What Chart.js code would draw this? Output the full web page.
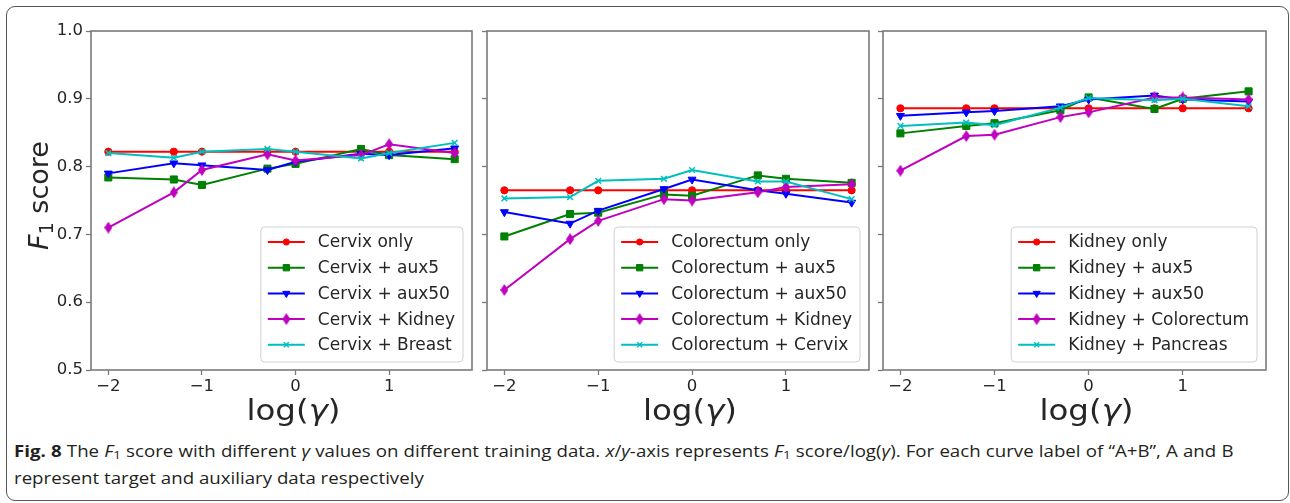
<!DOCTYPE html>
<html>
<head>
<meta charset="utf-8">
<script src="https://cdn.jsdelivr.net/npm/chart.js@4/dist/chart.umd.min.js"></script>
<style>
  body { margin: 0; background: #fff; width: 1290px; height: 503px; overflow: hidden; position: relative; }
  #frame { position: absolute; left: 6px; top: 6px; width: 1281px; height: 493px; border: 1px solid #555; border-radius: 9px; }
  canvas { position: absolute; top: 0; }
  #caption { position: absolute; left: 14px; top: 438px; width: 1012px; font-family: "Open Sans", sans-serif; font-size: 15.5px; line-height: 27px; color: #231f20; transform: scaleX(1.205); transform-origin: 0 0; }
  #caption .l1 { white-space: nowrap; text-align: justify; text-align-last: justify; }
  #caption .l2 { white-space: nowrap; }
  #caption sub { font-size: 0.72em; vertical-align: -0.2em; line-height: 0; }
</style>
</head>
<body>
<div id="frame"></div>
<canvas id="c1" width="480" height="436" style="left:0px"></canvas>
<canvas id="c2" width="395" height="436" style="left:480px"></canvas>
<canvas id="c3" width="400" height="436" style="left:875px"></canvas>
<div id="caption"><div class="l1"><b>Fig. 8</b> The <i>F</i><sub>1</sub> score with different <i>γ</i> values on different training data. <i>x</i>/<i>y</i>-axis represents <i>F</i><sub>1</sub> score/log(<i>γ</i>). For each curve label of “A+B”, A and B</div><div class="l2">represent target and auxiliary data respectively</div></div>
<script>
// log10 of gamma = 0.01, 0.05, 0.1, 0.5, 1, 5, 10, 50
const logGamma = [-2, -1.3, -1, -0.3, 0, 0.7, 1, 1.7];
const xTicks = [-2, -1, 0, 1];
const yTicks = [0.5, 0.6, 0.7, 0.8, 0.9, 1.0];

const cervixLabels = ["Cervix only", "Cervix + aux5", "Cervix + aux50", "Cervix + Kidney", "Cervix + Breast"];
const cervixOnly   = [0.822, 0.822, 0.822, 0.822, 0.822, 0.822, 0.822, 0.822];
const cervixAux5   = [0.784, 0.781, 0.773, 0.797, 0.804, 0.826, 0.817, 0.811];
const cervixAux50  = [0.790, 0.805, 0.802, 0.795, 0.807, 0.819, 0.817, 0.827];
const cervixKidney = [0.710, 0.762, 0.795, 0.818, 0.809, 0.817, 0.833, 0.820];
const cervixBreast = [0.820, 0.813, 0.822, 0.826, 0.822, 0.812, 0.820, 0.835];

const colorectumLabels = ["Colorectum only", "Colorectum + aux5", "Colorectum + aux50", "Colorectum + Kidney", "Colorectum + Cervix"];
const colorectumOnly   = [0.765, 0.765, 0.765, 0.765, 0.765, 0.765, 0.765, 0.765];
const colorectumAux5   = [0.697, 0.730, 0.732, 0.759, 0.757, 0.787, 0.782, 0.776];
const colorectumAux50  = [0.733, 0.716, 0.735, 0.767, 0.781, 0.765, 0.760, 0.747];
const colorectumKidney = [0.618, 0.693, 0.720, 0.752, 0.750, 0.762, 0.770, 0.774];
const colorectumCervix = [0.753, 0.755, 0.779, 0.782, 0.795, 0.778, 0.778, 0.752];

const kidneyLabels = ["Kidney only", "Kidney + aux5", "Kidney + aux50", "Kidney + Colorectum", "Kidney + Pancreas"];
const kidneyOnly       = [0.886, 0.886, 0.886, 0.886, 0.886, 0.886, 0.886, 0.886];
const kidneyAux5       = [0.849, 0.860, 0.864, 0.883, 0.902, 0.885, 0.900, 0.911];
const kidneyAux50      = [0.875, 0.880, 0.882, 0.889, 0.899, 0.905, 0.899, 0.896];
const kidneyColorectum = [0.794, 0.845, 0.847, 0.873, 0.880, 0.902, 0.902, 0.899];
const kidneyPancreas   = [0.860, 0.865, 0.861, 0.887, 0.901, 0.898, 0.900, 0.889];

const frameColor = "#7a7a7a";
const textColor = "#262626";

// thin diamond marker like matplotlib 'd'
const thinDiamond = document.createElement("canvas");
thinDiamond.width = 8; thinDiamond.height = 12;
(function () {
  const g = thinDiamond.getContext("2d");
  g.fillStyle = "#bf00bf";
  g.beginPath();
  g.moveTo(4, 0); g.lineTo(8, 6); g.lineTo(4, 12); g.lineTo(0, 6);
  g.closePath(); g.fill();
})();

const seriesStyles = [
  { color: "#ff0000", pointStyle: "circle", radius: 3.6, rotation: 0, borderWidth: 1 },
  { color: "#008000", pointStyle: "rect", radius: 5, rotation: 0, borderWidth: 1 },
  { color: "#0000ff", pointStyle: "triangle", radius: 4.6, rotation: 180, borderWidth: 1 },
  { color: "#bf00bf", pointStyle: thinDiamond, radius: 5, rotation: 0, borderWidth: 0 },
  { color: "#00bfbf", pointStyle: "crossRot", radius: 4, rotation: 0, borderWidth: 1.5 }
];

function fmtTick(v) {
  return v < 0 ? "\u2212" + Math.abs(v) : String(v);
}

const panelDecor = {
  id: "panelDecor",
  afterDatasetsDraw(chart) {
    const { ctx, chartArea: a } = chart;
    ctx.save();
    ctx.strokeStyle = frameColor;
    ctx.lineWidth = 1.6;
    ctx.strokeRect(a.left, a.top, a.right - a.left, a.bottom - a.top);

    // legend box, lower right inside the axes
    ctx.font = '17px "DejaVu Sans"';
    const ds = chart.data.datasets;
    const maxW = Math.max(...ds.map(d => ctx.measureText(d.label).width));
    const w = 57 + maxW + 8, h = 135;
    const right = a.right - 9, bottom = a.bottom - 8;
    const left = right - w, top = bottom - h;
    ctx.beginPath();
    ctx.roundRect(left, top, w, h, 4);
    ctx.fillStyle = "rgba(255,255,255,0.85)";
    ctx.fill();
    ctx.strokeStyle = "#d0d0d0";
    ctx.lineWidth = 1;
    ctx.stroke();
    ds.forEach((d, i) => {
      const st = seriesStyles[i];
      const y = top + 15 + i * 25.7;
      ctx.strokeStyle = st.color;
      ctx.fillStyle = st.color;
      ctx.lineWidth = 2;
      ctx.beginPath();
      ctx.moveTo(left + 7, y); ctx.lineTo(left + 44, y);
      ctx.stroke();
      ctx.lineWidth = st.borderWidth || 1;
      Chart.helpers.drawPoint(ctx, { pointStyle: st.pointStyle, radius: st.radius - 0.5, rotation: st.rotation, borderWidth: st.borderWidth }, left + 25.5, y);
      ctx.fillStyle = textColor;
      ctx.textBaseline = "middle";
      ctx.textAlign = "left";
      ctx.fillText(d.label, left + 57, y + 1);
    });
    ctx.restore();
  },
  afterDraw(chart) {
    const { ctx, chartArea: a } = chart;
    ctx.save();
    ctx.fillStyle = textColor;
    ctx.textBaseline = "alphabetic";
    // x title: log(γ), slightly widened like the source image
    const xs = 29, sx = 1.12;
    const parts = [["log(", `${xs}px "DejaVu Sans"`], ["γ", `italic ${xs}px "DejaVu Sans"`], [")", `${xs}px "DejaVu Sans"`]];
    let tw = 0;
    parts.forEach(p => { ctx.font = p[1]; tw += ctx.measureText(p[0]).width; });
    ctx.save();
    ctx.translate((a.left + a.right) / 2 + 12, 420);
    ctx.scale(sx, 1);
    let x = -tw / 2;
    parts.forEach(p => { ctx.font = p[1]; ctx.fillText(p[0], x, 0); x += ctx.measureText(p[0]).width; });
    ctx.restore();

    // y title only on the first panel
    if (chart.canvas.id === "c1") {
      const ys = 27;
      ctx.translate(48, (a.top + a.bottom) / 2 - 5);
      ctx.rotate(-Math.PI / 2);
      const yp = [["F", `italic ${ys}px "DejaVu Sans"`, 0], ["1", `19px "DejaVu Sans"`, 5], [" score", `${ys}px "DejaVu Sans"`, 0]];
      let yw = 0;
      yp.forEach(p => { ctx.font = p[1]; yw += ctx.measureText(p[0]).width; });
      let px = -yw / 2;
      yp.forEach(p => { ctx.font = p[1]; ctx.fillText(p[0], px, p[2]); px += ctx.measureText(p[0]).width; });
    }
    ctx.restore();
  }
};

function makePanel(id, labels, series, yWidth, padRight) {
  const canvas = document.getElementById(id);
  const datasets = series.map((vals, i) => {
    const st = seriesStyles[i];
    return {
      label: labels[i],
      data: logGamma.map((x, j) => ({ x: x, y: vals[j] })),
      borderColor: st.color,
      backgroundColor: st.color,
      borderWidth: 2,
      pointStyle: st.pointStyle,
      pointRadius: st.radius,
      pointRotation: st.rotation,
      pointBorderWidth: st.borderWidth,
      pointBorderColor: st.color,
      pointBackgroundColor: st.color,
      tension: 0,
      order: series.length - i
    };
  });
  return new Chart(canvas.getContext("2d"), {
    type: "line",
    data: { datasets },
    options: {
      responsive: false,
      animation: false,
      events: [],
      layout: { padding: { top: 31, right: padRight, left: 0, bottom: 0 } },
      plugins: { legend: { display: false }, tooltip: { enabled: false } },
      scales: {
        x: {
          type: "linear",
          min: -2.185,
          max: 1.885,
          afterBuildTicks: s => { s.ticks = xTicks.map(v => ({ value: v })); },
          afterFit: s => { s.height = 66; },
          border: { display: false },
          grid: { display: true, drawOnChartArea: false, drawTicks: true, tickLength: 5, tickWidth: 1.3, color: frameColor },
          ticks: { callback: v => fmtTick(v), color: textColor, font: { family: "DejaVu Sans", size: 16.5 }, padding: 2, maxRotation: 0 }
        },
        y: {
          type: "linear",
          min: 0.5,
          max: 1.0,
          afterBuildTicks: s => { s.ticks = yTicks.map(v => ({ value: v })); },
          afterFit: s => { s.width = yWidth; },
          border: { display: false },
          grid: { display: true, drawOnChartArea: false, drawTicks: true, tickLength: 5, tickWidth: 1.3, color: frameColor },
          ticks: { display: id === "c1", callback: v => v.toFixed(1), color: textColor, font: { family: "DejaVu Sans", size: 16.5 }, padding: 3 }
        }
      }
    },
    plugins: [panelDecor]
  });
}

makePanel("c1", cervixLabels, [cervixOnly, cervixAux5, cervixAux50, cervixKidney, cervixBreast], 91, 8);
makePanel("c2", colorectumLabels, [colorectumOnly, colorectumAux5, colorectumAux50, colorectumKidney, colorectumCervix], 7, 6);
makePanel("c3", kidneyLabels, [kidneyOnly, kidneyAux5, kidneyAux50, kidneyColorectum, kidneyPancreas], 8, 9);
</script>
</body>
</html>
